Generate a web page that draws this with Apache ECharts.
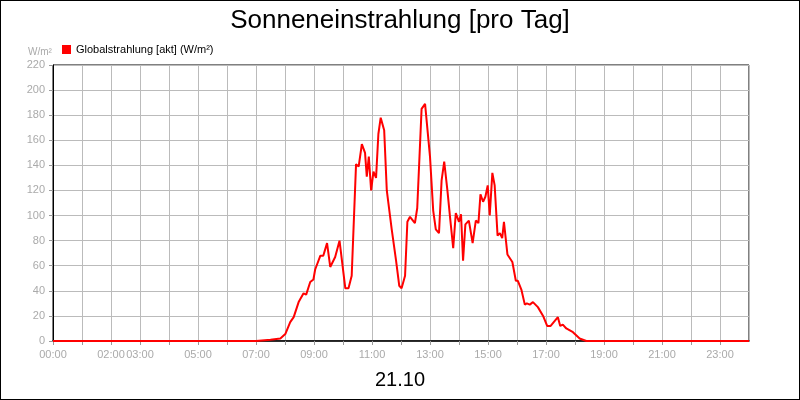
<!DOCTYPE html>
<html><head><meta charset="utf-8">
<script src="https://cdn.jsdelivr.net/npm/echarts@6/dist/echarts.min.js"></script>
<style>html,body{margin:0;padding:0;background:#fff}#c{width:800px;height:400px;box-sizing:border-box;border:1px solid #000}</style>
</head><body><div id="c"></div>
<script>
const hours = [0,7.0,7.5,7.84,8.01,8.18,8.3,8.47,8.64,8.73,8.87,8.98,9.04,9.22,9.32,9.45,9.56,9.73,9.88,10.08,10.19,10.3,10.45,10.54,10.65,10.76,10.82,10.89,10.97,11.05,11.14,11.22,11.3,11.42,11.51,11.68,11.83,11.94,12.02,12.14,12.22,12.31,12.48,12.56,12.71,12.83,13.0,13.11,13.2,13.31,13.4,13.49,13.6,13.69,13.8,13.89,14.0,14.07,14.14,14.22,14.34,14.47,14.58,14.67,14.74,14.83,14.91,14.99,15.06,15.15,15.23,15.33,15.41,15.49,15.55,15.67,15.84,15.96,16.03,16.15,16.27,16.34,16.44,16.55,16.72,16.9,17.04,17.16,17.41,17.49,17.58,17.7,17.93,18.16,18.39,24];
const values = [0,0,1,2,5.5,15,19,31,38,37,47,49,57,68,68,78,59,67,80,42,42,52,141,139,157,150,131,147,120,135,130,165,178,168,120,89,64,44,42,52,95,99,94,106,185,189,147,104,89,86,128,143,120,99,74,102,95,101,64,93,96,78,96,94,117,111,115,124,100,134,124,84,86,82,95,69,63,48,48,41,29,30,29,31,27,20,12,12,19,12,13,10,7,2,0,0];
const xTickLabels = [0,2,3,5,7,9,11,13,15,17,19,21,23];
const title = "Sonneneinstrahlung [pro Tag]";
const seriesName = "Globalstrahlung [akt] (W/m²)";
const dateLabel = "21.10";
const pad = h => (h<10?'0':'')+h+':00';
const chart = echarts.init(document.getElementById('c'));
chart.setOption({
  animation:false,
  textStyle:{fontFamily:'Liberation Sans, Arial'},
  title:[{text:title,left:'center',top:2,textStyle:{fontSize:26,fontWeight:'normal',color:'#000',fontFamily:'Liberation Sans, Arial'}},
         {text:dateLabel,left:'center',top:364,textStyle:{fontSize:20,fontWeight:'normal',color:'#000',fontFamily:'Liberation Sans, Arial'}},
         {text:'W/m²',left:22,top:41,textStyle:{fontSize:10,fontWeight:'normal',color:'#aaa',fontFamily:'Liberation Sans, Arial'}}],
  legend:{left:56,top:38,itemWidth:9,itemHeight:9,icon:'rect',itemGap:4,textStyle:{fontSize:11,color:'#000'},data:[seriesName]},
  grid:{left:52,right:50,top:64,bottom:58,show:true,borderColor:'#000',borderWidth:1},
  xAxis:{type:'value',min:0,max:24,interval:1,
    axisLine:{lineStyle:{color:'#000',width:1.5}},axisTick:{show:true,lineStyle:{color:'#999'},length:4},
    axisLabel:{color:'#aaa',fontSize:11,showMaxLabel:false,formatter:v=>xTickLabels.includes(v)?pad(v):''},
    splitLine:{lineStyle:{color:'#bbb'}}},
  yAxis:{type:'value',min:0,max:220,interval:20,
    axisLine:{show:true,lineStyle:{color:'#000'}},axisTick:{show:true,lineStyle:{color:'#999'},length:4},
    axisLabel:{color:'#aaa',fontSize:11},splitLine:{lineStyle:{color:'#bbb'}}},
  series:[{name:seriesName,type:'line',showSymbol:false,color:'#ff0000',lineStyle:{width:2},
    data:hours.map((h,i)=>[h,values[i]])}]
});
</script></body></html>
